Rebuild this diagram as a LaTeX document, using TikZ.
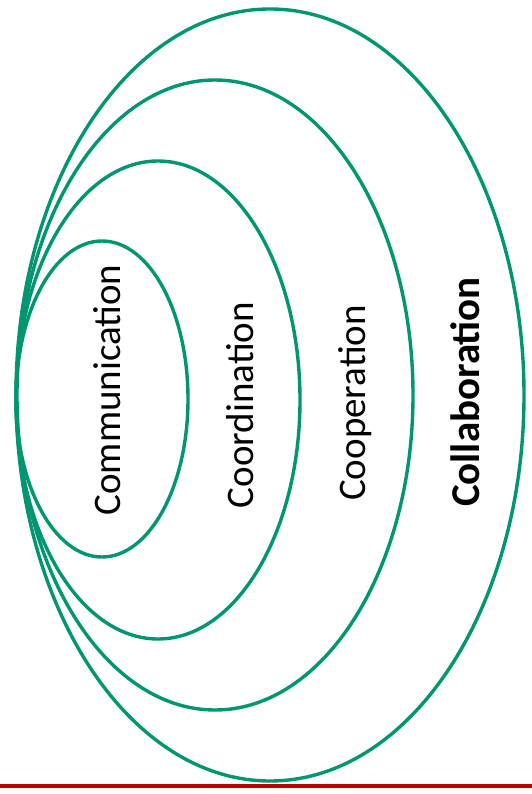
\documentclass[tikz,border=0pt]{standalone}
\usepackage{fontspec}
\setmainfont{Carlito}
\definecolor{ringgreen}{RGB}{0,150,112}
\definecolor{rulered}{RGB}{192,0,0}
\begin{document}
\begin{tikzpicture}[x=1pt,y=-1pt,
    ring/.style={draw=ringgreen,line width=3.4pt},
    lbl/.style={rotate=90,font=\fontsize{39}{42}\selectfont}]
\useasboundingbox (0,0) rectangle (532,794);
% nested rings, all touching on the left
\draw[ring] (270,395) ellipse (254 and 386);
\draw[ring] (215,395) ellipse (198 and 315);
\draw[ring] (158,400) ellipse (142 and 239);
\draw[ring] (102,399) ellipse (86 and 158);

\node[lbl] (comm) at (107,390) {Communication};
\node[lbl] (coord) at (240,405) {Coordination};
\node[lbl] (coop) at (355,403) {Cooperation};
\node[lbl,font=\fontsize{41}{44}\selectfont\bfseries] (collab) at (465,392) {Collaboration};

% red rule at the bottom
\draw[rulered,line width=3.5pt] (0,786)--(532,786);
\end{tikzpicture}
\end{document}
